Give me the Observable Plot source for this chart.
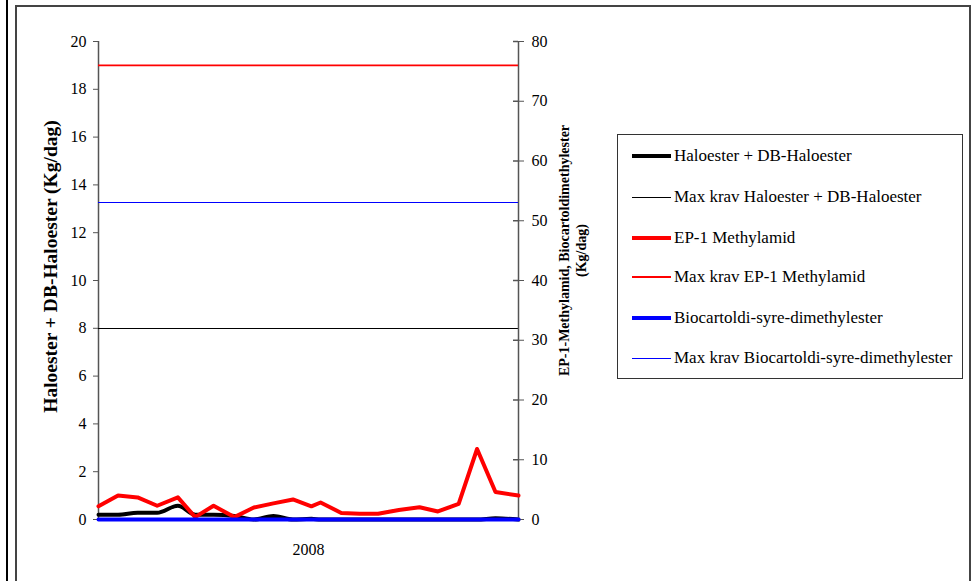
<!DOCTYPE html>
<html>
<head>
<meta charset="utf-8">
<script src="https://cdn.jsdelivr.net/npm/d3@7"></script>
<script src="https://cdn.jsdelivr.net/npm/@observablehq/plot@0.6"></script>
<style>
  html, body { margin: 0; padding: 0; background: #fff; }
  #page { position: relative; width: 979px; height: 581px; overflow: hidden; font-family: "Liberation Serif", "Times New Roman", serif; }
  #page svg { position: absolute; left: 0; top: 0; }
  .bar { position: absolute; left: 6px; top: 0; width: 2px; height: 581px; background: #000; }
  .box { position: absolute; left: 15px; top: 5px; width: 956px; height: 600px; border: 2px solid #444; box-sizing: border-box; }
  #legend { position: absolute; left: 617px; top: 134px; width: 346px; height: 245px; border: 1px solid #333; box-sizing: border-box; background: #fff; }
  .item { position: absolute; left: 14px; height: 20px; display: flex; align-items: center; font-size: 17px; color: #000; white-space: nowrap; }
  .swatch { width: 39px; margin-right: 3px; }
</style>
</head>
<body>
<div id="page">
  <div class="bar"></div>
  <div class="box"></div>
</div>
<script>
// ---- data ----
const dates = ["2008-01-01","2008-01-18","2008-02-04","2008-02-21","2008-03-10","2008-03-25","2008-04-10","2008-04-28","2008-05-15","2008-06-01","2008-06-18","2008-07-04","2008-07-12","2008-07-30","2008-08-15","2008-08-31","2008-09-18","2008-10-06","2008-10-22","2008-11-09","2008-11-25","2008-12-11","2008-12-31"];
const haloester = [0.2,0.2,0.28,0.28,0.58,0.2,0.2,0.15,0,0.15,0,0.03,0,0,0,0,0,0,0,0,0,0.05,0];
const ep1Methylamid = [2.2,4.0,3.7,2.3,3.7,0.4,2.3,0.4,2.0,2.7,3.35,2.2,2.85,1.1,0.95,0.95,1.6,2.05,1.35,2.6,11.8,4.6,4.0];
const biocartoldi = [0,0,0,0,0,0,0,0,0,0,0,0,0,0,0,0,0,0,0,0,0,0,0];
const maxHaloester = 8;
const maxEP1 = 76;
const maxBiocartoldi = 53;
const leftTicks = [0,2,4,6,8,10,12,14,16,18,20];
const rightTicks = [0,10,20,30,40,50,60,70,80];
const yearLabel = "2008";
const leftTitle = "Haloester + DB-Haloester (Kg/dag)";
const rightTitle = "EP-1-Methylamid, Biocartoldimethylester\n(Kg/dag)";
const legendNames = ["Haloester + DB-Haloester","Max krav Haloester + DB-Haloester","EP-1 Methylamid","Max krav EP-1 Methylamid","Biocartoldi-syre-dimethylester","Max krav Biocartoldi-syre-dimethylester"];
const legendColors = ["#000","#000","#ff0000","#ff0000","#0000ff","#0000ff"];
const legendWidths = [4,1,4,2,4,1];

// ---- build ----
const rows = dates.map((d, i) => ({date: new Date(d), halo: haloester[i], ep1: ep1Methylamid[i], bio: biocartoldi[i]}));
const xDomain = [new Date(dates[0]), new Date(dates[dates.length - 1])];
const mid = new Date((xDomain[0].getTime() + xDomain[1].getTime()) / 2);

const common = {
  width: 979, height: 581,
  marginLeft: 98, marginRight: 461, marginTop: 41, marginBottom: 62,
  style: {background: "transparent", fontFamily: "'Liberation Serif', 'Times New Roman', serif", fontSize: "16px", color: "#000", overflow: "visible"}
};

const primary = Plot.plot({
  ...common,
  x: {type: "utc", domain: xDomain},
  y: {domain: [0, 20]},
  marks: [
    Plot.ruleX([xDomain[0]], {stroke: "#555", strokeWidth: 1.5}),
    Plot.ruleY([0], {stroke: "#555", strokeWidth: 1.5}),
    Plot.axisY(leftTicks, {anchor: "left", tickSize: 5, tickPadding: 7, fontSize: 16, stroke: "#555", fill: "#000", label: null}),
    Plot.axisX([mid], {anchor: "bottom", tickSize: 0, tickPadding: 24, fontSize: 16, tickFormat: () => yearLabel, label: null}),
    Plot.ruleY([maxHaloester], {stroke: "#000", strokeWidth: 1, shapeRendering: "crispEdges"}),
    Plot.line(rows, {x: "date", y: "halo", stroke: "#000", strokeWidth: 4, curve: "monotone-x"}),
    Plot.text([leftTitle], {text: d => d, frameAnchor: "left", textAnchor: "middle", dx: -48, dy: -14, rotate: -90, fontWeight: "bold", fontSize: 19.5, fill: "#000"})
  ]
});

const secondary = Plot.plot({
  ...common,
  x: {type: "utc", domain: xDomain, axis: null},
  y: {domain: [0, 80]},
  marks: [
    Plot.ruleX([xDomain[1]], {stroke: "#555", strokeWidth: 1.5}),
    Plot.axisY(rightTicks, {anchor: "right", tickSize: 5, tickPadding: 8, fontSize: 16, stroke: "#555", fill: "#000", label: null}),
    Plot.tickY(rightTicks, {y: d => d, insetLeft: 415, stroke: "#555", strokeWidth: 1.5}),
    Plot.ruleY([maxEP1], {stroke: "#ff0000", strokeWidth: 1.6}),
    Plot.ruleY([maxBiocartoldi], {stroke: "#0000ff", strokeWidth: 1, shapeRendering: "crispEdges"}),
    Plot.line(rows, {x: "date", y: "ep1", stroke: "#ff0000", strokeWidth: 4}),
    Plot.line(rows, {x: "date", y: "bio", stroke: "#0000ff", strokeWidth: 4}),
    Plot.text([rightTitle], {text: d => d, frameAnchor: "right", textAnchor: "middle", dx: 54, dy: -30, rotate: -90, lineHeight: 1.2, fontWeight: "bold", fontSize: 14, fill: "#000"})
  ]
});

const page = document.getElementById("page");
page.appendChild(primary);
page.appendChild(secondary);

const legend = document.createElement("div");
legend.id = "legend";
const rowTops = [11, 52, 93, 132, 173, 213];
legendNames.forEach((name, i) => {
  const item = document.createElement("div");
  item.className = "item";
  item.style.top = rowTops[i] + "px";
  const sw = document.createElement("div");
  sw.className = "swatch";
  sw.style.height = legendWidths[i] + "px";
  sw.style.background = legendColors[i];
  const label = document.createElement("span");
  label.textContent = name;
  item.appendChild(sw);
  item.appendChild(label);
  legend.appendChild(item);
});
page.appendChild(legend);
</script>
</body>
</html>
